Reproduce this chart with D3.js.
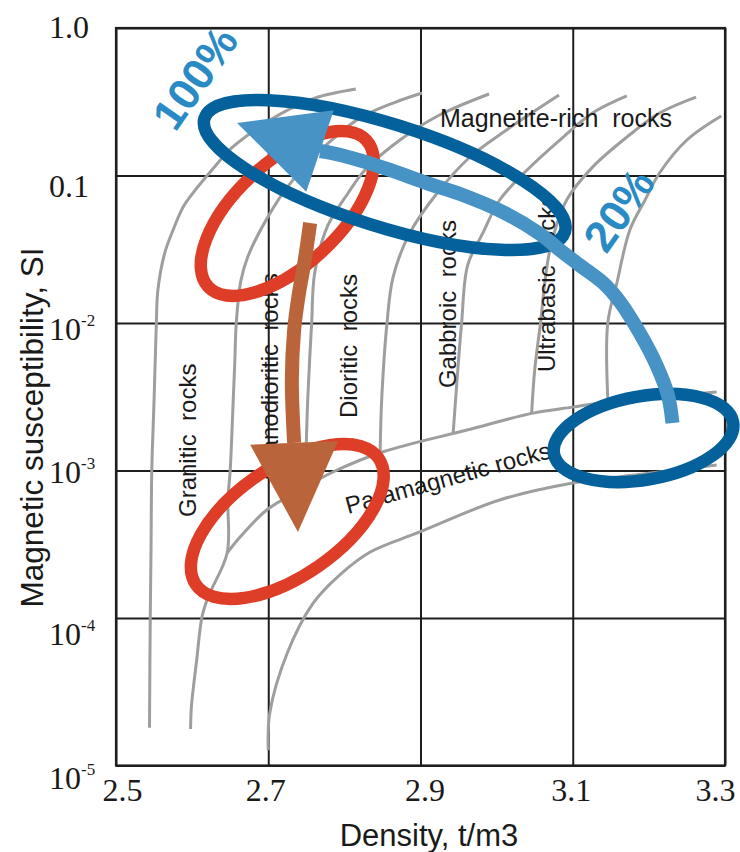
<!DOCTYPE html>
<html>
<head>
<meta charset="utf-8">
<script src="https://cdn.jsdelivr.net/npm/d3@7"></script>
<style>
  html, body { margin: 0; padding: 0; background: #fff; }
  svg { display: block; }
</style>
</head>
<body>
<svg id="chart" width="740" height="852"></svg>
<script>
// Magnetic susceptibility (SI) versus density (t/m3) for rock groups

const densityTicks = [2.5, 2.7, 2.9, 3.1, 3.3];
const susceptibilityTicks = [1, 0.1, 1e-2, 1e-3, 1e-4, 1e-5];
const susceptibilityLabels = [["1.0", ""], ["0.1", ""], ["10", "-2"], ["10", "-3"], ["10", "-4"], ["10", "-5"]];

// Group boundaries, [density, susceptibility]
const graniticEdge = [[2.544,1.8e-5],[2.545,1.0e-4],[2.546,2.9e-4],[2.547,1.0e-3],[2.550,3.0e-3],[2.553,1.0e-2],[2.555,1.67e-2],[2.564,2.98e-2],[2.575,4.27e-2],[2.588,6.1e-2],[2.601,7.6e-2],[2.626,0.109],[2.652,0.154],[2.683,0.204],[2.718,0.265],[2.761,0.335],[2.815,0.386]];
const granodioriticEdge = [[2.598,1.77e-5],[2.599,2.49e-5],[2.606,5.19e-5],[2.613,1.02e-4],[2.621,1.39e-4],[2.646,2.76e-4],[2.647,6.31e-4],[2.650,1.0e-3],[2.654,3.0e-3],[2.656,5.36e-3],[2.658,1.0e-2],[2.664,1.93e-2],[2.673,2.8e-2],[2.692,4.48e-2],[2.722,7.97e-2],[2.755,0.127],[2.788,0.182],[2.820,0.245],[2.864,0.31],[2.902,0.3625]];
const dioriticEdge = [[2.750,1.54e-3],[2.752,3.15e-3],[2.757,1.0e-2],[2.761,2.18e-2],[2.778,4.55e-2],[2.805,7.61e-2],[2.827,0.109],[2.873,0.174],[2.925,0.257],[2.990,0.357]];
const gabbroicEdge = [[2.847,1.34e-3],[2.849,3.0e-3],[2.856,1.0e-2],[2.864,2.05e-2],[2.886,4.08e-2],[2.922,7.61e-2],[2.965,0.1335],[3.013,0.2035],[3.082,0.351]];
const basicEdge = [[2.943,1.82e-3],[2.948,4.11e-3],[2.954,1.0e-2],[2.962,2.47e-2],[2.982,4.08e-2],[3.004,6.82e-2],[3.040,0.109],[3.083,0.174],[3.126,0.265],[3.171,0.346]];
const ultrabasicEdge = [[3.046,2.45e-3],[3.050,4.8e-3],[3.057,9.4e-3],[3.070,3.13e-2],[3.092,6.82e-2],[3.126,0.114],[3.171,0.182],[3.214,0.265],[3.262,0.34]];
const outerEdge = [[3.146,3.1e-3],[3.146,1.0e-2],[3.158,1.87e-2],[3.175,4.27e-2],[3.195,6.82e-2],[3.214,0.104],[3.250,0.174],[3.295,0.253]];
const paramagneticUpper = [[2.646,2.76e-4],[2.663,3.54e-4],[2.698,5.4e-4],[2.742,7.38e-4],[2.785,9.77e-4],[2.851,1.34e-3],[2.961,1.88e-3],[3.048,2.45e-3],[3.100,2.69e-3],[3.146,2.91e-3],[3.289,3.4e-3]];
const paramagneticLower = [[2.700,1.27e-5],[2.702,2.27e-5],[2.725,5.79e-5],[2.759,1.26e-4],[2.794,1.96e-4],[2.834,2.8e-4],[2.899,3.83e-4],[3.004,6.31e-4],[3.100,8.23e-4],[3.195,9.5e-4],[3.289,1.09e-3]];

// Sample fields: centre density, centre susceptibility, half-span along the long axis (density units),
// half-span across (decades), tilt of the long axis
const fieldKind       = ["red", "red", "blue", "blue"];
const fieldDensity    = [2.725, 2.725, 2.853, 3.193];
const fieldSusc       = [0.0553, 4.51e-4, 0.1008, 1.66e-3];
const fieldHalfLong   = [0.1416, 0.1459, 0.2482, 0.1195];
const fieldHalfAcross = [0.350, 0.3695, 0.348, 0.283];
const fieldTilt       = [-42.8, -34.7, 17.5, -10];

// Alteration trends, [density, susceptibility]; the last point is the arrow tip
const trendDown = [[2.755,4.76e-2],[2.748,2.67e-2],[2.740,1.55e-2],[2.734,8.96e-3],[2.731,4.11e-3],[2.734,1.54e-3],[2.739,3.83e-4]];
const trendUp = [[3.231,2.10e-3],[3.225,3.25e-3],[3.210,5.19e-3],[3.188,8.55e-3],[3.162,1.39e-2],[3.140,1.87e-2],[3.109,2.47e-2],[3.083,3.13e-2],[3.057,4.01e-2],[3.008,5.66e-2],[2.952,7.49e-2],[2.908,8.89e-2],[2.860,0.109],[2.820,0.127],[2.784,0.142],[2.768,0.1466],[2.659,0.227]];

const svg = d3.select("#chart");
const plotLeft = 116, plotRight = 725, plotTop = 28, plotBottom = 765.5;
const x = d3.scaleLinear().domain([2.5, 3.3]).range([plotLeft, plotRight]);
const y = d3.scaleLog().domain([1e-5, 1]).range([plotBottom, plotTop]);
const decadePx = (y(1e-5) - y(1)) / 5;

const serif = "'Liberation Serif', 'Times New Roman', serif";
const sans = "'Liberation Sans', Arial, Helvetica, sans-serif";
const gridColor = "#1e1e1e";

// Grid from the axes
const xNudge = {"2.5": 6, "2.7": -3, "2.9": 4, "3.1": -2, "3.3": -10};
svg.append("g")
  .attr("transform", `translate(0,${plotBottom})`)
  .call(d3.axisBottom(x).tickValues(densityTicks).tickSize(-(plotBottom - plotTop)).tickPadding(13).tickFormat(d3.format(".1f")))
  .call(g => g.select(".domain").remove())
  .call(g => g.selectAll(".tick line").attr("stroke", gridColor).attr("stroke-width", 2))
  .call(g => g.selectAll(".tick text")
    .attr("font-family", serif).attr("font-size", 32).attr("fill", "#1a1a1a")
    .attr("dx", d => xNudge[d3.format(".1f")(d)] || 0));

const yBase = [9, 20.5, 16.3, 12.3, 26, 22.6];
const gy = svg.append("g")
  .attr("transform", `translate(${plotLeft},0)`)
  .call(d3.axisLeft(y).tickValues(susceptibilityTicks).tickSize(-(plotRight - plotLeft)).tickFormat(""))
  .call(g => g.select(".domain").remove())
  .call(g => g.selectAll(".tick line").attr("stroke", gridColor).attr("stroke-width", 2));

gy.selectAll(".tick").each(function(d, i) {
  const t = d3.select(this).append("text")
    .attr("x", 49 - plotLeft).attr("y", yBase[i])
    .attr("text-anchor", "start")
    .attr("font-family", serif).attr("font-size", 32).attr("fill", "#1a1a1a");
  const [main, sup] = susceptibilityLabels[i];
  t.append("tspan").text(main);
  if (sup) t.append("tspan").attr("font-size", 17).attr("dy", -14).text(sup);
});

// Frame
svg.append("rect")
  .attr("x", plotLeft).attr("y", plotTop).attr("width", plotRight - plotLeft).attr("height", plotBottom - plotTop)
  .attr("fill", "none").attr("stroke", gridColor).attr("stroke-width", 2.2);

// Boundary curves
const line = d3.line().x(d => x(d[0])).y(d => y(d[1])).curve(d3.curveCatmullRom.alpha(0.5));
const boundaries = [graniticEdge, granodioriticEdge, dioriticEdge, gabbroicEdge, basicEdge, ultrabasicEdge, outerEdge, paramagneticUpper, paramagneticLower];
svg.append("g").selectAll("path").data(boundaries).join("path")
  .attr("d", line).attr("fill", "none")
  .attr("stroke", "#9e9e9e").attr("stroke-width", 3).attr("stroke-linejoin", "round");

// Group names
const labels = svg.append("g").attr("font-family", sans).attr("fill", "#1a1a1a");
const vertical = [
  ["Granitic\u00a0 rocks", 2.6057, 4.84e-4],
  ["Granodioritic\u00a0 rocks", 2.7127, 8.62e-4],
  ["Dioritic\u00a0 rocks", 2.8165, 2.27e-3],
  ["Gabbroic\u00a0 rocks", 2.9465, 3.62e-3],
  ["Ultrabasic\u00a0 rocks", 3.0765, 4.65e-3]
];
vertical.forEach(([txt, d, k]) => {
  labels.append("text")
    .attr("transform", `translate(${x(d)},${y(k)}) rotate(-90)`)
    .attr("font-size", 24).text(txt);
});
labels.append("text")
  .attr("x", x(2.9255)).attr("y", y(0.2142))
  .attr("font-size", 25).text("Magnetite-rich\u00a0 rocks");
labels.append("text")
  .attr("transform", `translate(${x(2.8047)},${y(5.07e-4)}) rotate(-15.4)`)
  .attr("font-size", 24).text("Paramagnetic rocks");

// Sample fields
const fieldColor = {red: "#de3d28", blue: "#04619b"};
const fields = svg.append("g");
fieldKind.forEach((kind, i) => {
  const cx = x(fieldDensity[i]), cy = y(fieldSusc[i]);
  const rx = x(fieldDensity[i] + fieldHalfLong[i]) - cx;
  const ry = decadePx * fieldHalfAcross[i];
  fields.append("ellipse")
    .attr("cx", cx).attr("cy", cy).attr("rx", rx).attr("ry", ry)
    .attr("transform", `rotate(${fieldTilt[i]},${cx},${cy})`)
    .attr("fill", "none").attr("stroke", fieldColor[kind]).attr("stroke-width", 12.5);
});

// Trend arrows
const shaftLine = d3.line().x(d => x(d[0])).y(d => y(d[1])).curve(d3.curveCatmullRom.alpha(0.5));
function drawTrend(pts, color, halfBase) {
  const shaft = pts.slice(0, -1), tip = pts[pts.length - 1];
  const g = svg.append("g");
  g.append("path").attr("d", shaftLine(shaft))
    .attr("fill", "none").attr("stroke", color).attr("stroke-width", 14);
  const last = shaft[shaft.length - 1];
  const bx = x(last[0]), by = y(last[1]);
  const tx = x(tip[0]), ty = y(tip[1]);
  const len = Math.hypot(tx - bx, ty - by);
  const ux = (tx - bx) / len, uy = (ty - by) / len;
  const px = -uy * halfBase, py = ux * halfBase;
  g.append("path")
    .attr("d", `M${bx + px},${by + py}L${tx},${ty}L${bx - px},${by - py}Z`)
    .attr("fill", color);
}
drawTrend(trendDown, "#b9643a", 44);
drawTrend(trendUp, "#4793c5", 43);

// Percentages
const pct = svg.append("g").attr("font-family", sans).attr("font-weight", "bold")
  .attr("font-size", 44).attr("fill", "#2a8ac4").attr("text-anchor", "middle");
pct.append("text").attr("dominant-baseline", "central")
  .attr("transform", `translate(${x(2.6037)},${y(0.458)}) rotate(-55)`).text("100%");
pct.append("text").attr("dominant-baseline", "central")
  .attr("transform", `translate(${x(3.1605)},${y(0.0584)}) rotate(-55)`).text("20%");

// Axis titles
svg.append("text")
  .attr("x", 429).attr("y", 846).attr("text-anchor", "middle")
  .attr("font-family", sans).attr("font-size", 31).attr("fill", "#1a1a1a")
  .text("Density, t/m3");
svg.append("text")
  .attr("transform", "translate(43,427.5) rotate(-90)").attr("text-anchor", "middle")
  .attr("font-family", sans).attr("font-size", 31.5).attr("fill", "#1a1a1a")
  .text("Magnetic susceptibility, SI");
</script>
</body>
</html>
